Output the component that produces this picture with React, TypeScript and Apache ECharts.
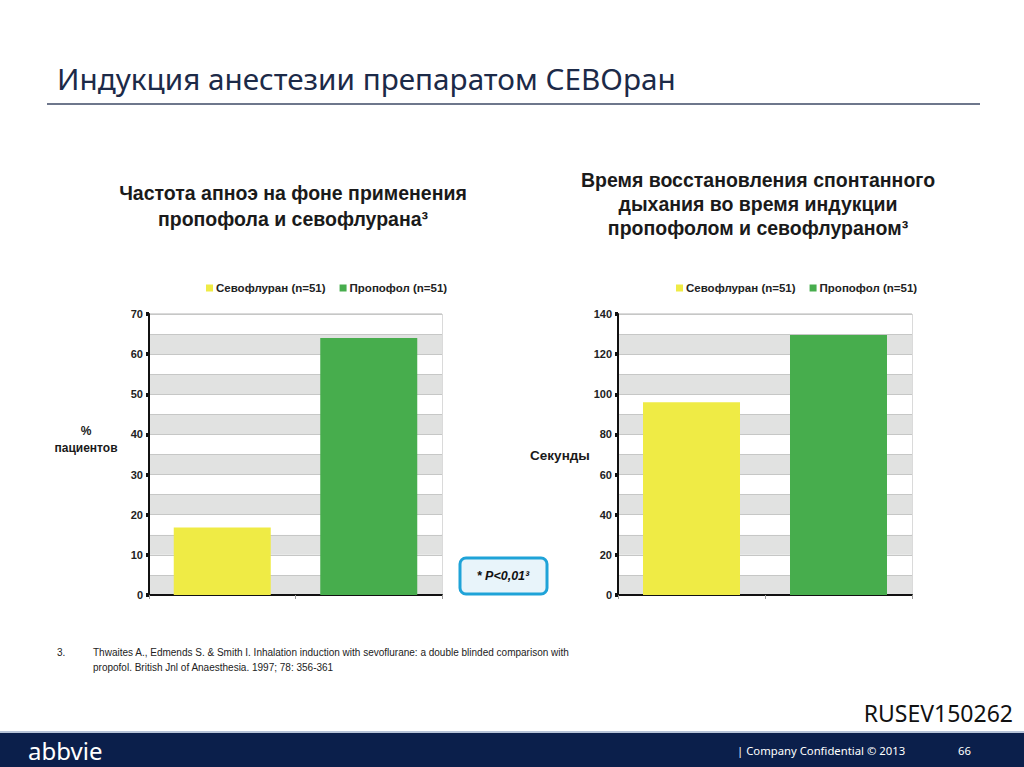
import React, { useEffect, useRef } from "react";
import * as echarts from "echarts";

const categories = ["Севофлуран (n=51)", "Пропофол (n=51)"];
const apneaValues = [16.8, 64];
const recoveryValues = [96, 129.5];
const apneaAxis = { min: 0, max: 70, band: 5, label: 10 };
const recoveryAxis = { min: 0, max: 140, band: 10, label: 20 };

const YELLOW = "#efeb45";
const GREEN = "#47ad4d";
const BAND = "#e1e2e1";
const SANS = "'Liberation Sans', Arial, sans-serif";
const TITLE_FONT = "'Noto Sans', 'Open Sans', sans-serif";

function makeYAxes(gridIndex: number, ax: { min: number; max: number; band: number; label: number }) {
  return [
    {
      type: "value",
      gridIndex,
      position: "left",
      min: ax.min,
      max: ax.max,
      interval: ax.band,
      axisLine: { show: false },
      axisTick: { show: false },
      axisLabel: { show: false },
      splitLine: { show: true, lineStyle: { color: "#c6c7c6", width: 1 } },
      splitArea: { show: true, areaStyle: { color: [BAND, "#ffffff"] } },
    },
    {
      type: "value",
      gridIndex,
      position: "left",
      min: ax.min,
      max: ax.max,
      interval: ax.label,
      axisLine: { show: true, onZero: false, lineStyle: { color: "#111", width: 2 } },
      axisTick: { show: true, length: 3, lineStyle: { color: "#111", width: 4 } },
      axisLabel: { show: true, color: "#222", fontSize: 11, fontWeight: "bold", fontFamily: SANS, margin: 6 },
      splitLine: { show: false },
      splitArea: { show: false },
    },
  ];
}

function makeXAxis(gridIndex: number) {
  return {
    type: "category",
    gridIndex,
    data: categories,
    axisLine: { show: true, lineStyle: { color: "#111", width: 2 } },
    axisTick: { show: true, length: 4, lineStyle: { color: "#999", width: 1 } },
    axisLabel: { show: false },
  };
}

function barSeries(name: string, color: string, values: (number | string)[], gi: number) {
  return {
    type: "bar",
    name,
    xAxisIndex: gi,
    yAxisIndex: gi * 2 + 1,
    data: values,
    barWidth: 97,
    barGap: "-100%",
    itemStyle: { color },
  };
}

const legendBase = {
  orient: "horizontal",
  itemWidth: 7,
  itemHeight: 7,
  icon: "rect",
  textStyle: { fontSize: 11.5, fontWeight: "bold", color: "#222", fontFamily: SANS, padding: [0, 0, 0, -2] },
  data: categories,
  top: 277,
};

export default function App() {
  const ref = useRef<HTMLDivElement>(null);

  useEffect(() => {
    if (!ref.current) return;
    const chart = echarts.init(ref.current, undefined, { renderer: "svg" });
    const option = {
      animation: false,
      backgroundColor: "#ffffff",
      color: [YELLOW, GREEN],
      grid: [
        { left: 149, top: 314, width: 293, height: 281, show: true, borderColor: "#b5b5b5", borderWidth: 1, backgroundColor: "transparent" },
        { left: 618, top: 314, width: 294, height: 281, show: true, borderColor: "#b5b5b5", borderWidth: 1, backgroundColor: "transparent" },
      ],
      legend: [
        { ...legendBase, left: 201, itemGap: 14 },
        { ...legendBase, left: 671, itemGap: 14 },
      ],
      xAxis: [makeXAxis(0), makeXAxis(1)],
      yAxis: [...makeYAxes(0, apneaAxis), ...makeYAxes(1, recoveryAxis)],
      series: [
        barSeries(categories[0], YELLOW, [apneaValues[0], "-"], 0),
        barSeries(categories[1], GREEN, ["-", apneaValues[1]], 0),
        barSeries(categories[0], YELLOW, [recoveryValues[0], "-"], 1),
        barSeries(categories[1], GREEN, ["-", recoveryValues[1]], 1),
      ],
      graphic: [
        {
          type: "text",
          x: 57,
          y: 78,
          style: { text: "Индукция анестезии препаратом СЕВОран", font: `29.7px ${TITLE_FONT}`, fill: "#1c2a48", verticalAlign: "middle" },
        },
        {
          type: "line",
          shape: { x1: 47, y1: 104, x2: 980, y2: 104 },
          style: { stroke: "#3e4a66", lineWidth: 1.5 },
        },
        {
          type: "text",
          x: 293,
          y: 180,
          style: {
            text: "Частота апноэ на фоне применения\nпропофола и севофлурана³",
            font: `bold 19.5px ${SANS}`,
            fill: "#1a1a1a",
            align: "center",
            verticalAlign: "top",
            lineHeight: 26,
          },
        },
        {
          type: "text",
          x: 758,
          y: 168,
          style: {
            text: "Время восстановления спонтанного\nдыхания во время индукции\nпропофолом и севофлураном³",
            font: `bold 19.5px ${SANS}`,
            fill: "#1a1a1a",
            align: "center",
            verticalAlign: "top",
            lineHeight: 24,
          },
        },
        {
          type: "text",
          x: 86,
          y: 422,
          style: { text: "%\nпациентов", font: `bold 12px ${SANS}`, fill: "#1a1a1a", align: "center", verticalAlign: "top", lineHeight: 17 },
        },
        {
          type: "text",
          x: 560,
          y: 455,
          style: { text: "Секунды", font: `bold 13.5px ${SANS}`, fill: "#1a1a1a", align: "center", verticalAlign: "middle" },
        },
        {
          type: "rect",
          shape: { x: 460, y: 558, width: 87, height: 36, r: 6 },
          style: { fill: "#e8f4fa", stroke: "#1fa3d8", lineWidth: 3 },
        },
        {
          type: "text",
          x: 503,
          y: 576,
          style: { text: "* P<0,01³", font: `italic bold 12.5px ${SANS}`, fill: "#111", align: "center", verticalAlign: "middle" },
        },
        {
          type: "text",
          x: 57,
          y: 652,
          style: { text: "3.", font: `10px ${SANS}`, fill: "#222", verticalAlign: "middle" },
        },
        {
          type: "text",
          x: 93,
          y: 645,
          style: {
            text: "Thwaites A., Edmends S. & Smith I. Inhalation induction with sevoflurane: a double blinded comparison with\npropofol. British Jnl of Anaesthesia. 1997; 78: 356-361",
            font: `10px ${SANS}`,
            fill: "#222",
            verticalAlign: "top",
            lineHeight: 15,
          },
        },
        {
          type: "text",
          x: 1013,
          y: 713,
          style: { text: "RUSEV150262", font: `23px ${TITLE_FONT}`, fill: "#111", align: "right", verticalAlign: "middle" },
        },
        {
          type: "rect",
          shape: { x: 0, y: 731, width: 1024, height: 2 },
          style: { fill: "#b7c3d8" },
        },
        {
          type: "rect",
          shape: { x: 0, y: 733, width: 1024, height: 34 },
          style: { fill: "#0b1f4b" },
        },
        {
          type: "text",
          x: 28,
          y: 750,
          style: { text: "abbvie", font: `24px ${TITLE_FONT}`, fill: "#ffffff", verticalAlign: "middle" },
        },
        {
          type: "text",
          x: 737,
          y: 750,
          style: { text: "| Company Confidential © 2013", font: `11.3px ${TITLE_FONT}`, fill: "#ffffff", verticalAlign: "middle" },
        },
        {
          type: "text",
          x: 958,
          y: 750,
          style: { text: "66", font: `11.3px ${TITLE_FONT}`, fill: "#ffffff", verticalAlign: "middle" },
        },
      ],
    };
    chart.setOption(option as any);
    return () => chart.dispose();
  }, []);

  return (
    <div
      ref={ref}
      style={{ position: "absolute", left: 0, top: 0, width: 1024, height: 767, background: "#fff" }}
    />
  );
}
